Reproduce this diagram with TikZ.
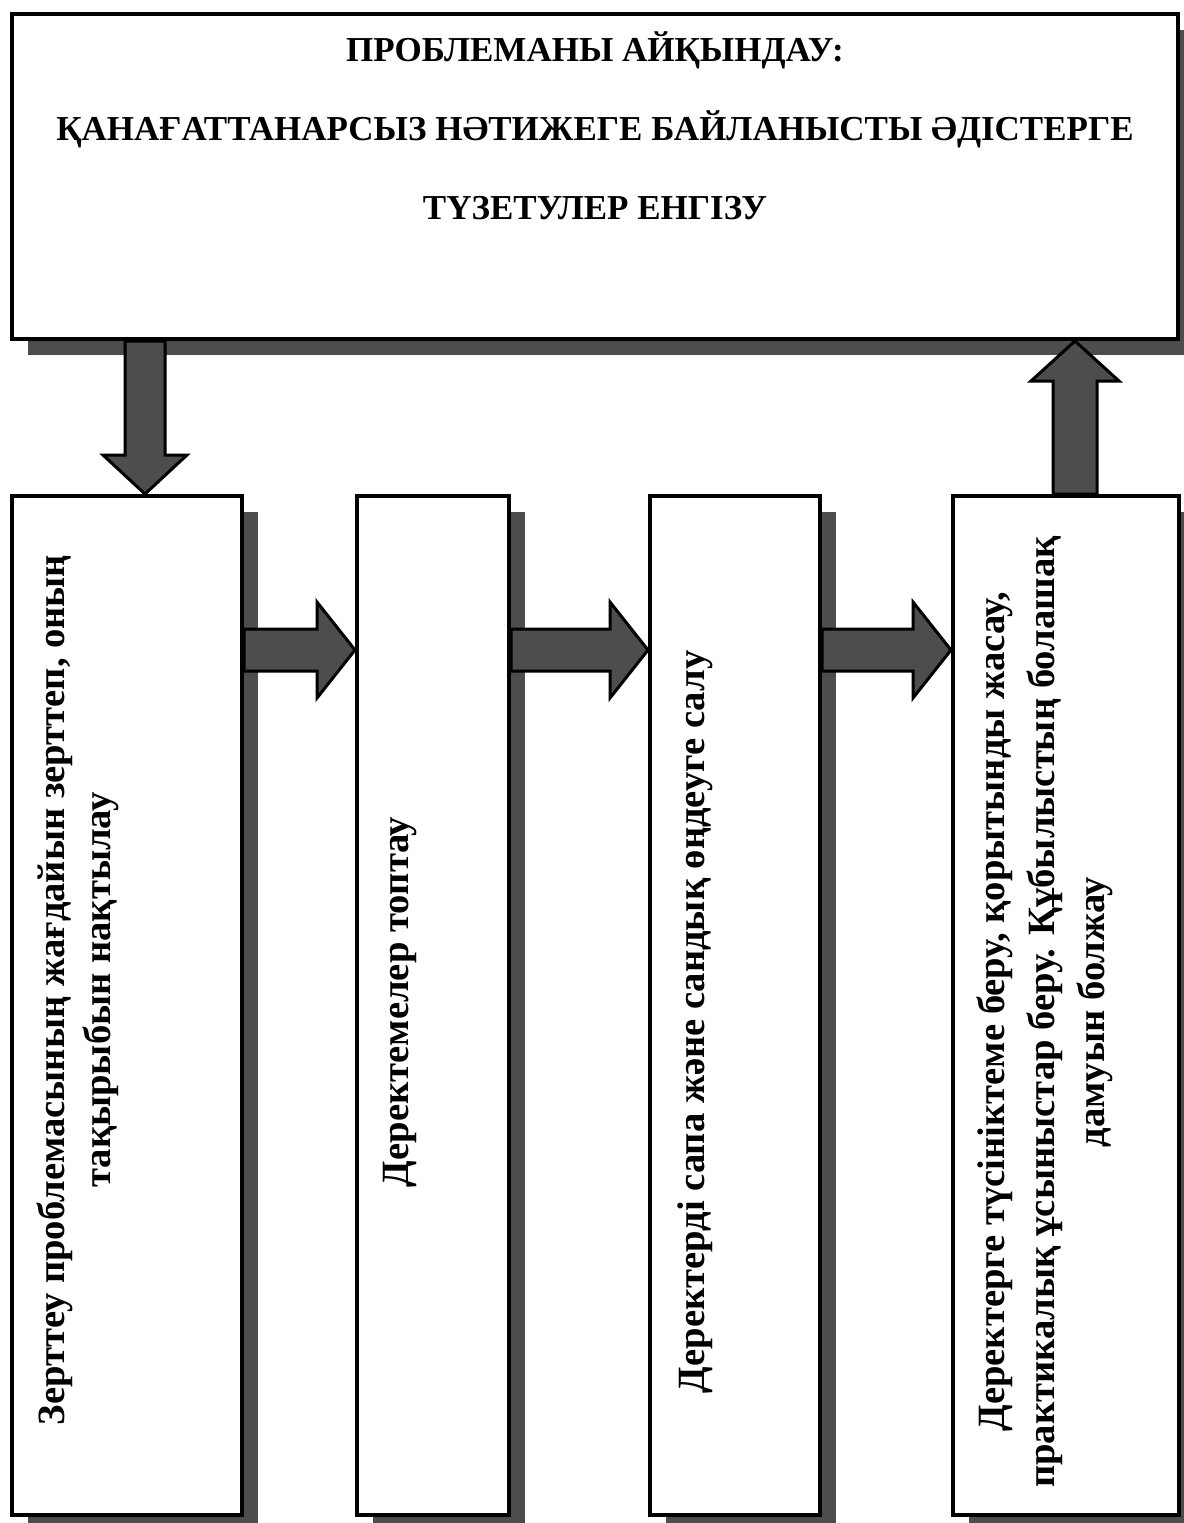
\documentclass[tikz,border=0pt]{standalone}
\usepackage{fontspec}
\setmainfont{Liberation Serif}
\usetikzlibrary{calc,shadows}
\definecolor{shd}{HTML}{4D4D4D}
\begin{document}
\begin{tikzpicture}[x=0.5pt,y=-0.5pt,
  box/.style={draw=black, line width=2pt, fill=white, inner sep=0pt, anchor=north west,
    drop shadow={shadow xshift=8pt, shadow yshift=-8pt, fill=shd, opacity=1}},
  toptext/.style={align=center, font=\bfseries\fontsize{17.5}{39.5}\selectfont},
  vtext/.style={align=center, rotate=90, font=\bfseries\fontsize{19.3}{23}\selectfont},
  fatarrow/.style={draw=black, fill=shd, line width=1.5pt, line join=miter}]
\useasboundingbox (0,0) rectangle (1184,1523);
% boxes
\node[box, minimum width=583pt, minimum height=162.5pt] (top) at (10,12) {};
\node[box, minimum width=115pt, minimum height=509.5pt] (b1) at (10,494) {};
\node[box, minimum width=76pt, minimum height=509.5pt] (b2) at (355,494) {};
\node[box, minimum width=85pt, minimum height=509.5pt] (b3) at (648,494) {};
\node[box, minimum width=113pt, minimum height=509.5pt] (b4) at (951,494) {};
% texts
\node[toptext] (tt) at ($(top.north)+(0,114)$) {ПРОБЛЕМАНЫ АЙҚЫНДАУ:\\ҚАНАҒАТТАНАРСЫЗ НӘТИЖЕГЕ БАЙЛАНЫСТЫ ӘДІСТЕРГЕ\\ТҮЗЕТУЛЕР ЕНГІЗУ};
\node[vtext] (t1) at ($(b1.north west)+(68,496)$) {Зерттеу проблемасының жағдайын зерттеп, оның\\тақырыбын нақтылау};
\node[vtext] (t2) at ($(b2.north west)+(45,508)$) {Деректемелер топтау};
\node[vtext] (t3) at ($(b3.north west)+(47,528)$) {Деректерді сапа және сандық өңдеуге салу};
\node[vtext, font=\bfseries\fontsize{19.3}{25}\selectfont] (t4) at ($(b4.north west)+(94,518)$) {Деректерге түсініктеме беру, қорытынды жасау,\\практикалық ұсыныстар беру. Құбылыстың болашақ\\дамуын болжау};
% down arrow
\coordinate (tipD) at ($(b1.north west)+(135,0)$);
\coordinate (dL) at ($(tipD)+(-20,-39)$);
\coordinate (dR) at ($(tipD)+(20,-39)$);
\draw[fatarrow] (tipD) -- ($(tipD)+(-42,-39)$) -- (dL) -- (dL |- top.south) -- (dR |- top.south) -- (dR) -- ($(tipD)+(42,-39)$) -- cycle;
% up arrow
\coordinate (uB) at ($(b4.north west)+(124,0)$);
\coordinate (tipU) at (uB |- top.south);
\coordinate (uL) at ($(tipU)+(-22,40)$);
\coordinate (uR) at ($(tipU)+(22,40)$);
\draw[fatarrow] (tipU) -- ($(tipU)+(-44,40)$) -- (uL) -- (uL |- b4.north) -- (uR |- b4.north) -- (uR) -- ($(tipU)+(44,40)$) -- cycle;
% horizontal arrows
\foreach \a/\b in {b1/b2, b2/b3, b3/b4}{
  \coordinate (hs) at ($(\a.north east)+(0,156)$);
  \coordinate (ht) at (\b.west |- hs);
  \draw[fatarrow] ($(hs)+(0,-21)$) -- ($(ht)+(-38,-21)$) -- ($(ht)+(-38,-48)$) -- (ht) -- ($(ht)+(-38,48)$) -- ($(ht)+(-38,21)$) -- ($(hs)+(0,21)$) -- cycle;
}
\end{tikzpicture}
\end{document}
